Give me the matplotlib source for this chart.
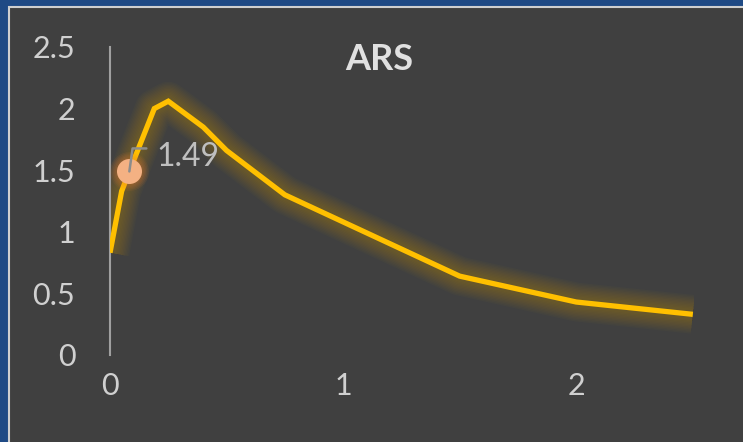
import matplotlib
matplotlib.use('Agg')
import matplotlib.pyplot as plt
from matplotlib.patches import Rectangle

# Concentração ao longo do tempo
tempo = [0, 0.05, 0.083, 0.19, 0.25, 0.4, 0.5, 0.75, 1.5, 2.0, 2.5]
conc = [0.83, 1.33, 1.49, 2.0, 2.06, 1.85, 1.66, 1.30, 0.64, 0.43, 0.33]

# Ponto destacado com rótulo
ponto_x = 0.083
ponto_y = 1.49
rotulo = '1.49'

titulo = 'ARS'
y_ticks = [0, 0.5, 1, 1.5, 2, 2.5]
y_labels = ['0', '0.5', '1', '1.5', '2', '2.5']
x_ticks = [0, 1, 2]

W, H = 743, 442
plt.rcParams['font.family'] = ['Lato', 'DejaVu Sans']

fig = plt.figure(figsize=(W / 100, H / 100), dpi=100)
fig.patch.set_facecolor('#1F4A85')

# painel cinza escuro com borda clara
fig.patches.append(Rectangle((9 / W, -0.05), 1.1, (H - 7) / H + 0.05,
                             transform=fig.transFigure, facecolor='#404040',
                             edgecolor='#D0D0D0', linewidth=1.5, zorder=-10))

ax = fig.add_axes([110 / W, 87 / H, 584 / W, 308 / H])
ax.set_facecolor('none')
ax.set_xlim(0, 2.505)
ax.set_ylim(0, 2.5)

# brilho em volta da linha (várias camadas finas)
for lw in range(28, 7, -2):
    ax.plot(tempo, conc, color='#FFC000', lw=lw, alpha=0.022,
            solid_joinstyle='round', solid_capstyle='butt', zorder=2)
ax.plot(tempo, conc, color='#FFC000', lw=3.8,
        solid_joinstyle='miter', solid_capstyle='butt', zorder=3)

# marcador com brilho laranja
for ms in range(28, 18, -2):
    ax.plot([ponto_x], [ponto_y], 'o', ms=ms, color='#ED7D31', alpha=0.08,
            mec='none', zorder=4)
ax.plot([ponto_x], [ponto_y], 'o', ms=18, color='#F4B183', mec='none', zorder=5)

# linha de chamada até o rótulo
ax.annotate('', xy=(ponto_x, ponto_y), xytext=(17, 23),
            textcoords='offset pixels', zorder=6,
            arrowprops=dict(arrowstyle='-', color='#8C8C8C', lw=1.8,
                            connectionstyle='angle,angleA=0,angleB=82,rad=0',
                            shrinkA=0, shrinkB=0))
ax.annotate(rotulo, xy=(ponto_x, ponto_y), xytext=(27, 14),
            textcoords='offset pixels', color='#BFBFBF', fontsize=23,
            va='center', ha='left', zorder=6)

ax.set_yticks(y_ticks)
ax.set_yticklabels(y_labels)
ax.set_xticks(x_ticks)
ax.tick_params(length=0, colors='#D0D0D0', labelsize=22)
ax.tick_params(axis='y', pad=25)
ax.tick_params(axis='x', pad=12)

for s in ['top', 'right', 'bottom']:
    ax.spines[s].set_visible(False)
ax.spines['left'].set_color('#A0A0A0')
ax.spines['left'].set_linewidth(1.5)

fig.text(379 / W, 1 - 60 / H, titulo, ha='center', va='center',
         color='#E0E0E0', fontsize=26, fontweight='bold')

fig.savefig('out.png', dpi=100, facecolor=fig.get_facecolor())
